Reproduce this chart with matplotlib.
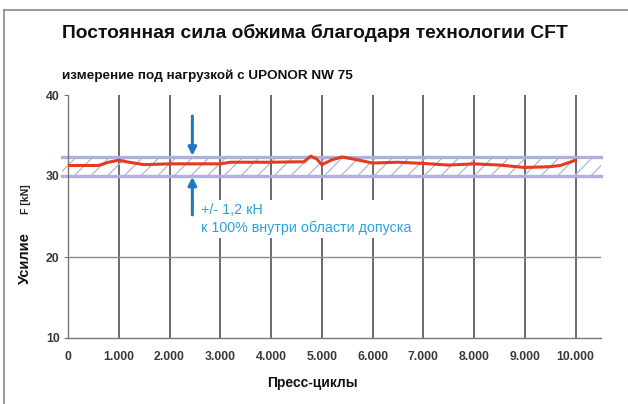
import matplotlib
matplotlib.use("Agg")
import matplotlib.pyplot as plt
from matplotlib.patches import Rectangle
from matplotlib.lines import Line2D

plt.rcParams['font.family'] = ['Liberation Sans', 'DejaVu Sans']
plt.rcParams['hatch.linewidth'] = 0.9

title = "Постоянная сила обжима благодаря технологии CFT"
subtitle = "измерение под нагрузкой с UPONOR NW 75"
xlabel = "Пресс-циклы"
ylabel_main = "Усилие"
ylabel_unit = "F [kN]"
annot_text = "+/- 1,2 кН\nк 100% внутри области допуска"

cycles = [0, 300, 600, 800, 1000, 1200, 1500, 2000, 2500, 3000, 3200, 3500,
          4000, 4500, 4650, 4780, 4900, 5000, 5200, 5400, 5700, 6000, 6500,
          7000, 7500, 8000, 8500, 9000, 9500, 9700, 10000]
force = [31.3, 31.3, 31.3, 31.7, 31.95, 31.7, 31.4, 31.5, 31.5, 31.5, 31.7, 31.7,
         31.7, 31.75, 31.75, 32.45, 32.1, 31.4, 32.0, 32.35, 32.0, 31.6, 31.7,
         31.55, 31.35, 31.5, 31.35, 31.05, 31.15, 31.3, 31.95]

band_center = 31.2
band_tol = 1.2
xticks = list(range(0, 10001, 1000))
xticklabels = ["0", "1.000", "2.000", "3.000", "4.000", "5.000", "6.000",
               "7.000", "8.000", "9.000", "10.000"]
yticks = [10, 20, 30, 40]
arrow_x = 2450

W, H = 628, 404
fig = plt.figure(figsize=(W / 100, H / 100), dpi=100)

def fx(px):
    return px / W

def fy(py):
    return 1 - py / H

# border (top and left)
fig.add_artist(Line2D([fx(4), 1], [fy(10), fy(10)], color='#888888', lw=1.2))
fig.add_artist(Line2D([fx(4), fx(4)], [fy(10), 0], color='#888888', lw=1.2))

ax = fig.add_axes([fx(68), fy(338), fx(601) - fx(68), fy(95) - fy(338)])
ax.set_xlim(0, 10500)
ax.set_ylim(10, 40)

for s in ['top', 'right']:
    ax.spines[s].set_visible(False)
ax.spines['left'].set_color('#777777')
ax.spines['bottom'].set_color('#777777')
ax.spines['left'].set_linewidth(1.0)
ax.spines['bottom'].set_linewidth(1.0)

# grid
for xv in xticks[1:]:
    ax.axvline(xv, color='#6a6a6a', lw=1.4, zorder=1)
ax.axhline(20, color='#8a8a8a', lw=1.0, zorder=1)
ax.axhline(30, color='#8a8a8a', lw=1.0, zorder=1)

# tolerance band
lo, hi = band_center - band_tol, band_center + band_tol
rect = Rectangle((-120, lo), 10620, hi - lo, facecolor='none', edgecolor='#b0b4dc',
                 hatch='//', lw=0, zorder=2, clip_on=False)
ax.add_patch(rect)
for yv in (lo, hi):
    ax.plot([-120, 10500], [yv, yv], color='#aeb0de', lw=2.4, zorder=2.5,
            clip_on=False)

# data line
ax.plot(cycles, force, color='#e63a1e', lw=2.2, zorder=4, solid_joinstyle='round')

# arrows
arrow_color = '#1f78c4'
ax.annotate('', xy=(arrow_x, hi + 0.1), xytext=(arrow_x, 37.4),
            arrowprops=dict(arrowstyle='-|>', color=arrow_color, lw=2.2,
                            mutation_scale=12, shrinkA=0, shrinkB=0), zorder=5)
ax.annotate('', xy=(arrow_x, lo - 0.1), xytext=(arrow_x, 25.2),
            arrowprops=dict(arrowstyle='-|>', color=arrow_color, lw=2.2,
                            mutation_scale=12, shrinkA=0, shrinkB=0), zorder=5)

ax.text(2620, 24.7, annot_text, color='#29a3df', fontsize=10.3, ha='left',
        va='center', linespacing=1.3, zorder=6,
        bbox=dict(facecolor='white', edgecolor='none', pad=2))

ax.set_xticks(xticks)
ax.set_xticklabels(xticklabels)
ax.set_yticks(yticks)
ax.tick_params(axis='x', length=0, pad=9, labelsize=8.8, labelcolor='#3a3a3a')
ax.tick_params(axis='y', length=3, width=0.8, color='#777777', pad=3,
               labelsize=8.8, labelcolor='#3a3a3a')
for lab in ax.get_xticklabels() + ax.get_yticklabels():
    lab.set_fontweight('bold')

fig.text(fx(62), fy(33), title, fontsize=13.9, fontweight='bold', ha='left',
         va='center', color='#111111')
fig.text(fx(62), fy(76), subtitle, fontsize=9.7, fontweight='bold', ha='left',
         va='center', color='#111111')
fig.text(fx(312), fy(383), xlabel, fontsize=10, fontweight='bold', ha='center',
         va='center', color='#111111')
fig.text(fx(25), fy(258), ylabel_main, fontsize=10.5, fontweight='bold',
         rotation=90, ha='center', va='center', color='#111111')
fig.text(fx(26), fy(199), ylabel_unit, fontsize=7.5, fontweight='bold',
         rotation=90, ha='center', va='center', color='#222222')

fig.savefig('out.png', dpi=100)
